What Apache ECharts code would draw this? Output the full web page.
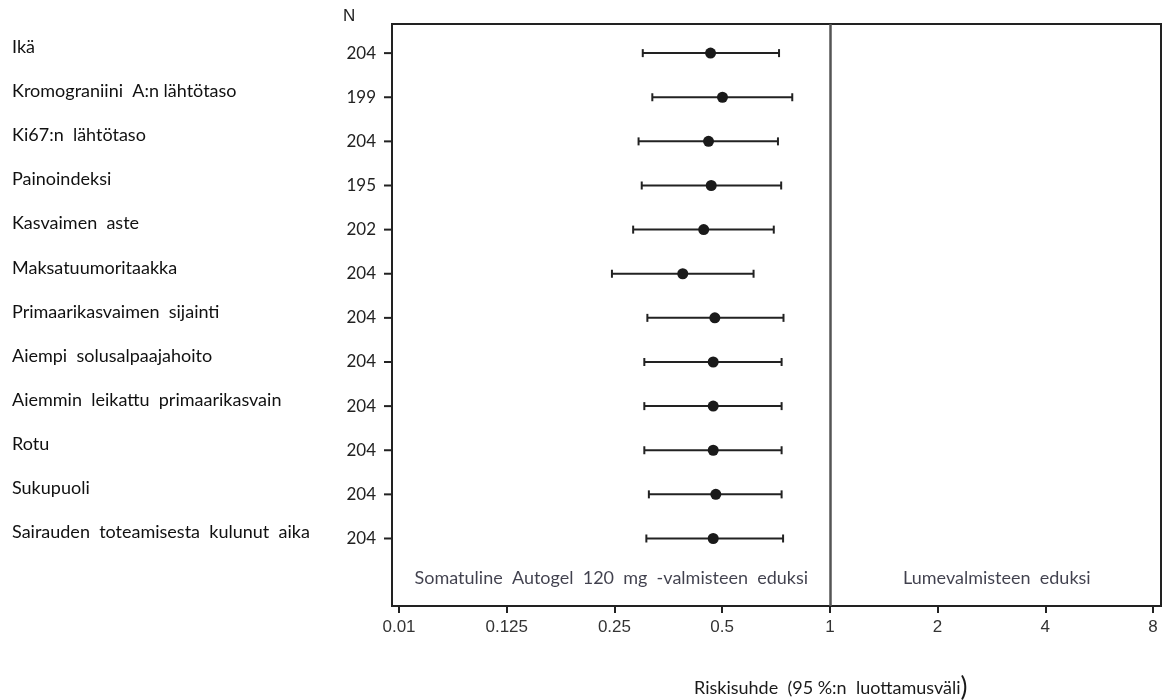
<!DOCTYPE html>
<html>
<head>
<meta charset="utf-8">
<script src="https://cdn.jsdelivr.net/npm/echarts@6/dist/echarts.min.js"></script>
<style>
  html, body { margin: 0; padding: 0; background: #fff; }
  #main { width: 1162px; height: 700px; }
</style>
</head>
<body>
<div id="main"></div>
<script>
// muuttujat, N ja riskisuhteet (95 % luottamusväli)
var variables = ['Ikä', 'Kromograniini  A:n lähtötaso', 'Ki67:n  lähtötaso', 'Painoindeksi',
  'Kasvaimen  aste', 'Maksatuumoritaakka', 'Primaarikasvaimen  sijainti', 'Aiempi  solusalpaajahoito',
  'Aiemmin  leikattu  primaarikasvain', 'Rotu', 'Sukupuoli', 'Sairauden  toteamisesta  kulunut  aika'];
var nValues = [204, 199, 204, 195, 202, 204, 204, 204, 204, 204, 204, 204];
var hr    = [0.464, 0.501, 0.458, 0.466, 0.444, 0.388, 0.477, 0.472, 0.472, 0.472, 0.480, 0.472];
var lower = [0.300, 0.319, 0.292, 0.298, 0.282, 0.246, 0.309, 0.303, 0.303, 0.303, 0.312, 0.307];
var upper = [0.721, 0.785, 0.716, 0.731, 0.697, 0.612, 0.742, 0.733, 0.733, 0.733, 0.733, 0.740];

// x-akselin jaotukset (log2-asteikko, 0.01 piirretty yhden askeleen päähän)
var tickPos = [-4, -3, -2, -1, 0, 1, 2, 3];
var tickLabels = ['0.01', '0.125', '0.25', '0.5', '1', '2', '4', '8'];

var favourText = ['Somatuline  Autogel  120  mg  -valmisteen  eduksi', 'Lumevalmisteen  eduksi'];

var xMin = -4.065, xMax = 3.074;
var rows = variables.map(function (v, i) { return i; });

var barData = rows.map(function (i) {
  return [Math.log2(lower[i]), Math.log2(upper[i]), Math.log2(hr[i]), i];
});

var chart = echarts.init(document.getElementById('main'));

var option = {
  animation: false,
  textStyle: { fontFamily: 'Lato' },
  title: {
    left: 689, top: 670,
    text: '{a|Riskisuhde  (95 %:n  luottamusväli}{b|)}',
    textStyle: {
      rich: {
        a: { fontFamily: 'Lato', fontSize: 18, color: '#1a1a1a', fontWeight: 'normal' },
        b: { fontFamily: 'Lato', fontSize: 26, color: '#1a1a1a', fontWeight: 'normal' }
      }
    }
  },
  graphic: [{
    id: 'nHeader', type: 'text', left: 343, top: 8,
    style: { text: 'N', font: '17px Arial', fill: '#222' }
  }],
  grid: {
    left: 392, top: 24, width: 769, height: 582,
    show: true, borderColor: '#222', borderWidth: 2
  },
  xAxis: {
    type: 'value', min: xMin, max: xMax,
    axisLine: { show: true, onZero: false, lineStyle: { color: '#222', width: 2 } },
    splitLine: { show: false },
    axisTick: { show: true, length: 7, customValues: tickPos, lineStyle: { color: '#222', width: 2 } },
    axisLabel: {
      customValues: tickPos, margin: 13,
      fontFamily: 'Arial', fontSize: 17, color: '#333',
      formatter: function (v) { return tickLabels[tickPos.indexOf(Math.round(v))]; }
    }
  },
  yAxis: [{
    type: 'value', inverse: true, min: -0.66, max: 12.53, position: 'left',
    axisLine: { show: true, onZero: false, lineStyle: { color: '#222', width: 2 } },
    splitLine: { show: false },
    axisTick: { show: false },
    axisLabel: {
      customValues: rows, margin: 16,
      fontFamily: 'Lato', fontSize: 17, color: '#222',
      formatter: function (v) { return nValues[Math.round(v)]; }
    }
  }, {
    type: 'value', inverse: true, min: -0.66, max: 12.53, position: 'left',
    axisLine: { show: false, onZero: false },
    splitLine: { show: false },
    axisTick: { show: false },
    axisLabel: {
      customValues: rows, margin: 380, align: 'left',
      verticalAlign: 'bottom', lineHeight: 12,
      fontFamily: 'Lato', fontSize: 18, color: '#111',
      formatter: function (v) { return variables[Math.round(v)]; }
    }
  }],
  series: [{
    type: 'custom',
    data: barData,
    encode: { x: [0, 1, 2], y: 3 },
    renderItem: function (params, api) {
      var y = api.value(3);
      var p1 = api.coord([api.value(0), y]);
      var p2 = api.coord([api.value(1), y]);
      var pc = api.coord([api.value(2), y]);
      var st = { stroke: '#222', lineWidth: 2 };
      return {
        type: 'group',
        children: [
          { type: 'line', shape: { x1: p1[0], y1: p1[1], x2: p2[0], y2: p2[1] }, style: st },
          { type: 'line', shape: { x1: p1[0], y1: p1[1] - 4, x2: p1[0], y2: p1[1] + 4 }, style: st },
          { type: 'line', shape: { x1: p2[0], y1: p2[1] - 4, x2: p2[0], y2: p2[1] + 4 }, style: st },
          { type: 'circle', shape: { cx: pc[0], cy: pc[1], r: 5.5 }, style: { fill: '#1a1a1a' } }
        ]
      };
    },
    markLine: {
      silent: true, symbol: 'none', label: { show: false },
      lineStyle: { color: '#555', width: 2.5, type: 'solid' },
      data: [{ xAxis: 0 }]
    }
  }, {
    type: 'scatter',
    symbolSize: 0,
    data: [[-2.029, 11.9], [1.55, 11.9]],
    label: {
      show: true, position: 'inside',
      fontFamily: 'Lato', fontSize: 18, color: '#111122',
      formatter: function (p) { return favourText[p.dataIndex]; }
    }
  }]
};

chart.setOption(option);

// y-akselin jaotusviivat N-arvojen kohdalla, sijainnit akselin asteikosta
var tickMarks = rows.map(function (i) {
  var p = chart.convertToPixel({ gridIndex: 0 }, [xMin, i]);
  return {
    id: 'ytick' + i, type: 'line', z: 100,
    shape: { x1: p[0] - 8, y1: p[1], x2: p[0], y2: p[1] },
    style: { stroke: '#222', lineWidth: 2 }
  };
});
chart.setOption({ graphic: tickMarks });
</script>
</body>
</html>
